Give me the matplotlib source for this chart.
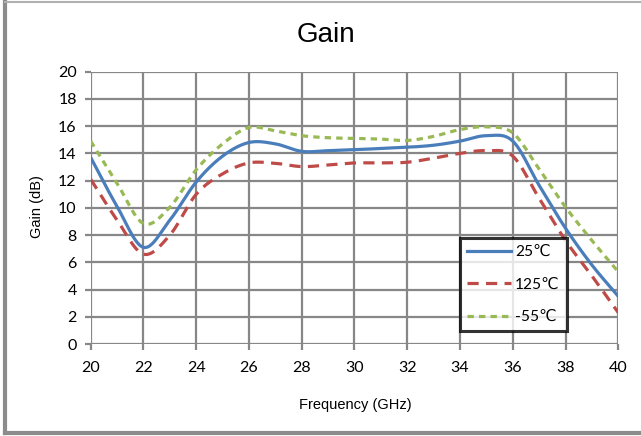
import numpy as np
import matplotlib
matplotlib.use("Agg")
import matplotlib.pyplot as plt
from matplotlib.lines import Line2D

freq = [20, 21, 22, 23, 24, 25, 26, 27, 28, 29, 30, 31, 32, 33, 34, 35, 36, 37, 38, 39, 40]
gain_25 = [13.7, 10.1, 7.1, 9.1, 11.9, 13.8, 14.8, 14.7, 14.15, 14.2, 14.27, 14.36, 14.45,
           14.6, 14.9, 15.3, 14.9, 11.65, 8.5, 5.8, 3.5]
gain_125 = [12.1, 9.1, 6.6, 8.0, 11.0, 12.5, 13.3, 13.27, 13.03, 13.15, 13.3, 13.3, 13.35,
            13.65, 14.0, 14.2, 13.8, 10.7, 7.6, 5.0, 2.3]
gain_m55 = [14.9, 11.8, 8.85, 10.05, 12.8, 14.7, 15.9, 15.65, 15.3, 15.15, 15.1, 15.05, 14.95,
            15.25, 15.75, 15.95, 15.5, 12.85, 10.05, 7.6, 5.3]
labels = ["25\u2103", "125\u2103", "-55\u2103"]
xticks = list(range(20, 41, 2))
yticks = list(range(0, 21, 2))


def smooth(x, y, n=24):
    # cardinal (Catmull-Rom) spline for rendering, like a smoothed line
    x = np.asarray(x, float)
    y = np.asarray(y, float)
    m = np.zeros_like(y)
    m[1:-1] = (y[2:] - y[:-2]) / (x[2:] - x[:-2])
    m[0] = (y[1] - y[0]) / (x[1] - x[0])
    m[-1] = (y[-1] - y[-2]) / (x[-1] - x[-2])
    xs, ys = [], []
    for i in range(len(x) - 1):
        h = x[i + 1] - x[i]
        t = np.linspace(0, 1, n, endpoint=False)
        h00 = 2 * t**3 - 3 * t**2 + 1
        h10 = t**3 - 2 * t**2 + t
        h01 = -2 * t**3 + 3 * t**2
        h11 = t**3 - t**2
        xs.extend(x[i] + t * h)
        ys.extend(h00 * y[i] + h10 * h * m[i] + h01 * y[i + 1] + h11 * h * m[i + 1])
    xs.append(x[-1])
    ys.append(y[-1])
    return np.array(xs), np.array(ys)


W, H = 641, 436
fig = plt.figure(figsize=(W / 100, H / 100), dpi=100)
ax = fig.add_axes([90.7 / W, 1 - 344 / H, (618.3 - 90.7) / W, (344 - 71.7) / H])

grid_c = '#878787'
for xv in xticks:
    ax.axvline(xv, color=grid_c, lw=1.6, zorder=1)
for yv in yticks:
    ax.axhline(yv, color=grid_c, lw=1.6, zorder=1)

x1, y1 = smooth(freq, gain_25)
x2, y2 = smooth(freq, gain_125)
x3, y3 = smooth(freq, gain_m55)
ax.plot(x1, y1, color='#4A7EBB', lw=2.3, label=labels[0], zorder=3)
ax.plot(x2, y2, color='#BE4B48', lw=2.3, dashes=(3.5, 2.3), label=labels[1], zorder=3)
ax.plot(x3, y3, color='#98B954', lw=2.3, dashes=(2.0, 1.6), label=labels[2], zorder=3)

ax.set_xlim(20, 40)
ax.set_ylim(0, 20)
ax.set_xticks(xticks)
ax.set_yticks(yticks)
for s in ax.spines.values():
    s.set_visible(False)
ax.tick_params(axis='both', length=4, width=1.6, color=grid_c, labelsize=11.5)
ax.tick_params(axis='x', pad=8)
ax.tick_params(axis='y', pad=6)
for lab in ax.get_xticklabels() + ax.get_yticklabels():
    lab.set_fontfamily(['Lato', 'DejaVu Sans'])

fig.text(325.5 / W, 1 - 42 / H, 'Gain', fontsize=20, ha='center', va='baseline',
         family=['Liberation Sans', 'DejaVu Sans'])
fig.text(355.5 / W, 1 - 409 / H, 'Frequency (GHz)', fontsize=10.5, ha='center',
         va='baseline', family=['Liberation Sans', 'DejaVu Sans'])
fig.text(37 / W, 1 - 206.5 / H, 'Gain (dB)', fontsize=10.5, ha='center', va='center',
         rotation=90, family=['Liberation Sans', 'DejaVu Sans'])

leg = ax.legend(loc='upper left', bbox_to_anchor=((460 - 90.7) / 527.6, (344 - 238) / 272.3),
                prop={'family': ['Lato', 'DejaVu Sans'], 'size': 11.2},
                frameon=True, fancybox=False, handlelength=2.8, labelspacing=1.2,
                borderpad=0.45, handletextpad=0.3, borderaxespad=0)
leg.get_frame().set_edgecolor('black')
leg.get_frame().set_linewidth(2.2)
leg.get_frame().set_facecolor('white')
leg.set_zorder(5)

# outer chart border (left, top, bottom)
bc = '#8c8c8c'
fig.add_artist(Line2D([5 / W, 5 / W], [1 - 2 / H, 1 - 433 / H], color=bc, lw=3.0,
                      transform=fig.transFigure))
fig.add_artist(Line2D([5 / W, 1.0], [1 - 2 / H, 1 - 2 / H], color='#b0b0b0', lw=1.5,
                      transform=fig.transFigure))
fig.add_artist(Line2D([5 / W, 1.0], [1 - 433 / H, 1 - 433 / H], color=bc, lw=3.0,
                      transform=fig.transFigure))

fig.savefig('out.png', dpi=100)
